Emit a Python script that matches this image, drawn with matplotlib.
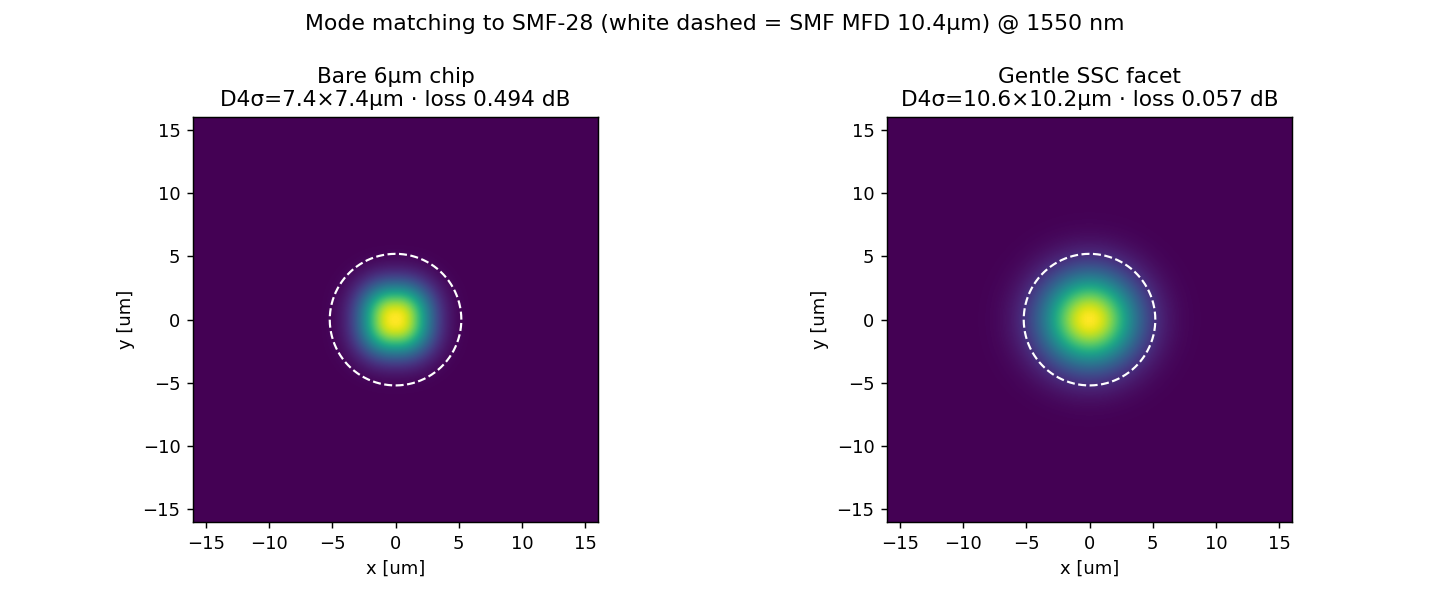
import numpy as np
import matplotlib.pyplot as plt

# facets and their measured modes
names = ["Bare 6µm chip", "Gentle SSC facet"]
d4s_x = [7.4, 10.6]
d4s_y = [7.4, 10.2]
loss_db = [0.494, 0.057]
shapes = ["square", "round"]   # bare chip mode is boxy, SSC mode is round
smf_mfd = 10.4
half_win = 16.0

x = np.linspace(-half_win, half_win, 401)
X, Y = np.meshgrid(x, x)


def boxy(u):
    return np.exp(-np.abs(u) ** 2.3)


def sigma_of(I, coord):
    return np.sqrt((I * coord ** 2).sum() / I.sum())


def profile(shape, wx, wy):
    if shape == "square":
        return boxy(X / wx) * boxy(Y / wy)
    return np.exp(-0.5 * ((X / wx) ** 2 + (Y / wy) ** 2))


def mode_field(dx, dy, shape):
    # unit-width profile first, then rescale so the D4sigma matches
    I1 = profile(shape, 1.0, 1.0)
    wx = dx / 4 / sigma_of(I1, X)
    wy = dy / 4 / sigma_of(I1, Y)
    I = profile(shape, wx, wy)
    return I / I.max()


fig, axes = plt.subplots(1, 2, figsize=(11, 4.6), dpi=130)
fig.subplots_adjust(left=0.135, right=0.9035, bottom=0.127, top=0.804, wspace=0.7136)

t = np.linspace(0, 2 * np.pi, 400)
for i, ax in enumerate(axes):
    I = mode_field(d4s_x[i], d4s_y[i], shapes[i])
    ax.imshow(I, extent=[-half_win, half_win, -half_win, half_win], origin="lower",
              cmap="viridis", interpolation="bilinear")
    r = smf_mfd / 2
    ax.plot(r * np.cos(t), r * np.sin(t), "w--", lw=1.2)
    ax.set_xlim(-half_win, half_win)
    ax.set_ylim(-half_win, half_win)
    ax.set_xlabel("x [um]")
    ax.set_ylabel("y [um]")
    ax.set_title(f"{names[i]}\nD4σ={d4s_x[i]:.1f}×{d4s_y[i]:.1f}µm · loss {loss_db[i]:.3f} dB")

fig.suptitle(f"Mode matching to SMF-28 (white dashed = SMF MFD {smf_mfd}µm) @ 1550 nm",
             fontsize=12.2, y=0.977)
fig.savefig("out.png")
